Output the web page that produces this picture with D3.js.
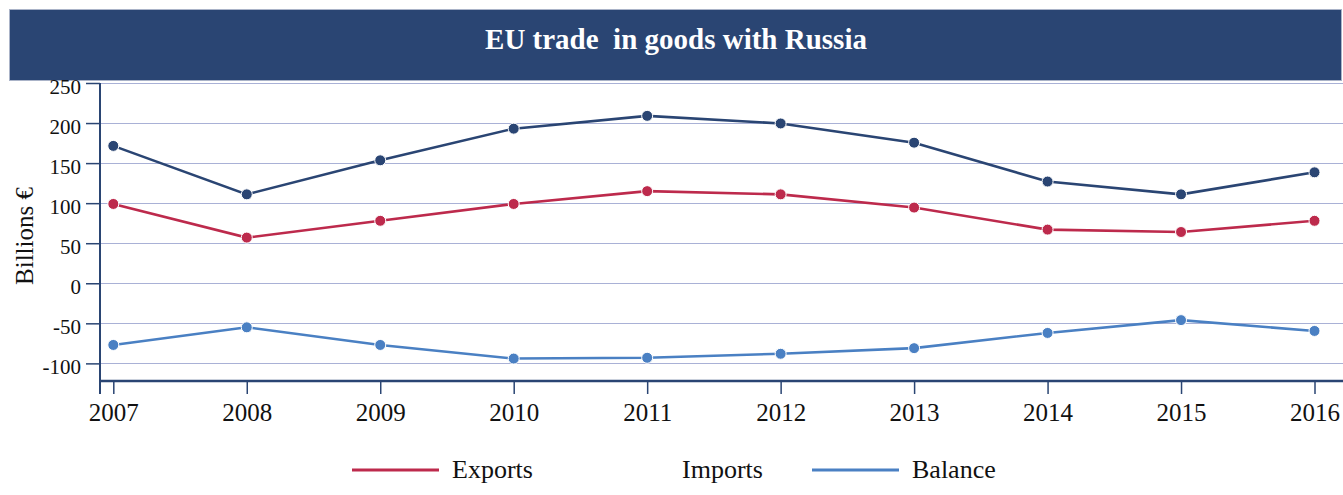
<!DOCTYPE html>
<html>
<head>
<meta charset="utf-8">
<script src="https://cdn.jsdelivr.net/npm/d3@7"></script>
<style>
  html, body { margin: 0; padding: 0; background: #fff; }
  svg { display: block; font-family: "Liberation Serif", "Times New Roman", serif; }
</style>
</head>
<body>
<svg id="chart" width="1343" height="495"></svg>
<script>
// EU trade in goods with Russia, billions of euro
const years   = [2007, 2008, 2009, 2010, 2011, 2012, 2013, 2014, 2015, 2016];
const exports_ = [99, 57, 78, 99, 115, 111, 94.5, 67, 64, 78];
const imports_ = [171.5, 111, 153.5, 193, 209, 199.5, 175.5, 127, 111, 138.5];
const balance = [-77, -55, -77, -94, -93, -88, -81, -62, -46, -59.5];
const yTicks  = [250, 200, 150, 100, 50, 0, -50, -100];

const series = [
  { name: "Exports", values: exports_, color: "#bd2a4c", swatch: true },
  { name: "Imports", values: imports_, color: "#2a4573", swatch: false },
  { name: "Balance", values: balance,  color: "#4a80c3", swatch: true }
];

const svg = d3.select("#chart");
const plot = { left: 100, right: 1343, top: 83, bottom: 381 };

// title banner
svg.append("rect")
  .attr("x", 9.5).attr("y", 9.5).attr("width", 1332).attr("height", 71)
  .attr("fill", "#2a4573").attr("stroke", "#aab3c8").attr("stroke-width", 1);
svg.append("text")
  .attr("x", 676).attr("y", 49)
  .attr("text-anchor", "middle")
  .attr("fill", "#fff").attr("font-weight", "bold").attr("font-size", 29)
  .style("white-space", "pre")
  .text("EU trade  in goods with Russia");

const x = d3.scaleLinear().domain([2007, 2016]).range([113.3, 1314.5]);
const y = d3.scaleLinear().domain([-122, 250]).range([plot.bottom, plot.top]);

// horizontal grid
svg.append("g").selectAll("line").data(yTicks).join("line")
  .attr("x1", plot.left).attr("x2", plot.right)
  .attr("y1", d => Math.round(y(d)) + 0.5).attr("y2", d => Math.round(y(d)) + 0.5)
  .attr("stroke", "#a9b1d6").attr("stroke-width", 1);

// y axis (plain hyphen for negatives)
const yAxis = svg.append("g")
  .attr("transform", `translate(${plot.left},0)`)
  .call(d3.axisLeft(y).tickValues(yTicks).tickSize(14).tickPadding(5).tickFormat(d => String(d)));
yAxis.select(".domain").remove();
yAxis.selectAll(".tick line").attr("stroke", "#2a4573").attr("stroke-width", 1.5);
yAxis.selectAll(".tick text")
  .attr("font-family", "Liberation Serif, Times New Roman, serif")
  .attr("font-size", 21).attr("fill", "#111").attr("dy", "0.5em");

// x axis
const xAxis = svg.append("g")
  .attr("transform", `translate(0,${plot.bottom})`)
  .call(d3.axisBottom(x).tickValues(years).tickSize(13).tickPadding(9).tickFormat(d3.format("d")));
xAxis.select(".domain").remove();
xAxis.selectAll(".tick line").attr("stroke", "#2a4573").attr("stroke-width", 1.5);
xAxis.selectAll(".tick text")
  .attr("font-family", "Liberation Serif, Times New Roman, serif")
  .attr("font-size", 25).attr("fill", "#111");

// axis frame lines
svg.append("line")
  .attr("x1", plot.left).attr("x2", plot.left)
  .attr("y1", plot.top).attr("y2", plot.bottom + 13)
  .attr("stroke", "#2a4573").attr("stroke-width", 2);
svg.append("line")
  .attr("x1", plot.left).attr("x2", plot.right)
  .attr("y1", plot.bottom).attr("y2", plot.bottom)
  .attr("stroke", "#2a4573").attr("stroke-width", 2.5);

// y axis title
svg.append("text")
  .attr("transform", "translate(33,236) rotate(-90)")
  .attr("text-anchor", "middle")
  .attr("font-size", 25).attr("fill", "#111")
  .text("Billions €");

// series lines and markers
const line = d3.line().x((d, i) => x(years[i])).y(d => y(d));
const g = svg.append("g");
series.forEach(s => {
  g.append("path")
    .datum(s.values)
    .attr("d", line)
    .attr("fill", "none")
    .attr("stroke", s.color)
    .attr("stroke-width", 2.6);
  g.selectAll(null).data(s.values).join("circle")
    .attr("cx", (d, i) => x(years[i]))
    .attr("cy", d => y(d))
    .attr("r", 5.5)
    .attr("fill", s.color)
    .attr("stroke", "#fff").attr("stroke-width", 1);
});

// legend
const legend = svg.append("g").attr("transform", "translate(352,470)");
const item = legend.selectAll("g").data(series).join("g")
  .attr("transform", (d, i) => `translate(${i * 230},0)`);
item.append("line")
  .attr("x1", 0).attr("x2", 87).attr("y1", 0).attr("y2", 0)
  .attr("stroke", d => d.swatch ? d.color : "none")
  .attr("stroke-width", 3);
item.append("text")
  .attr("x", 100).attr("y", 8)
  .attr("font-size", 26).attr("fill", "#111")
  .text(d => d.name);
</script>
</body>
</html>
